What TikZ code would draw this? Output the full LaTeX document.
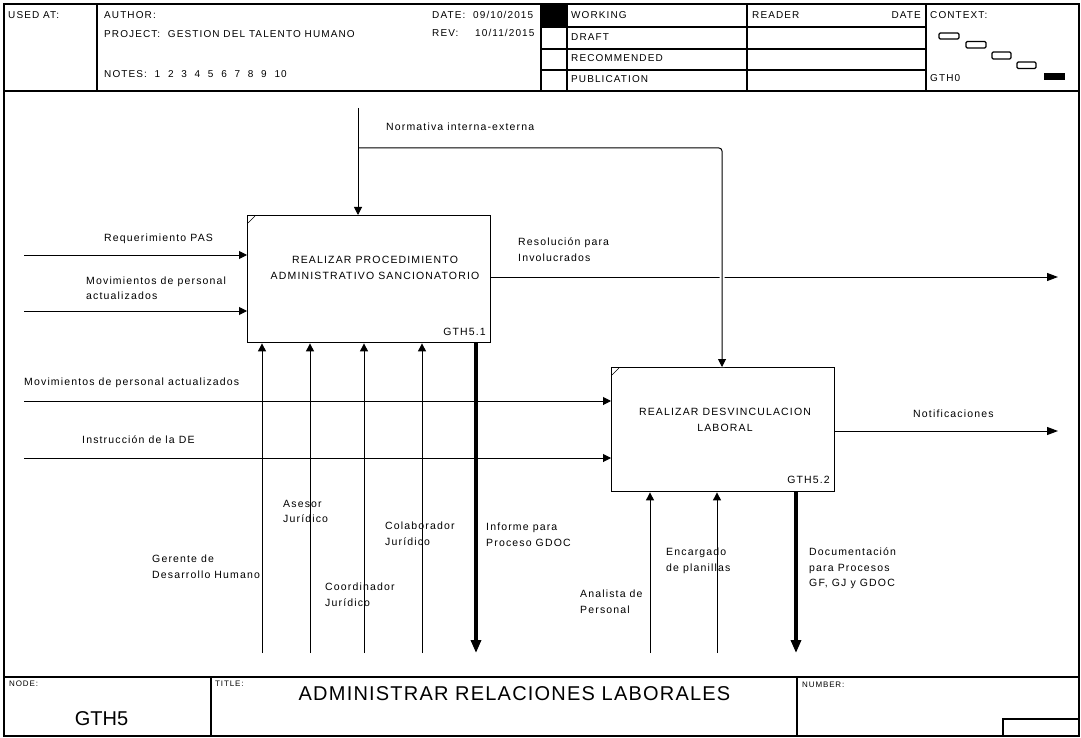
\documentclass[tikz,border=0pt]{standalone}
\usepackage{fontspec}
\setmainfont{Liberation Sans}[LetterSpace=11]
\newfontfamily\titlefont{Liberation Sans}[LetterSpace=6]
\newfontfamily\plainfont{Liberation Sans}
\usetikzlibrary{arrows.meta}
\begin{document}
\begin{tikzpicture}[x=1pt,y=-1pt,
  frame/.style={line width=1.3pt},
  rule/.style={line width=1.1pt},
  lbl/.style={inner sep=0pt, anchor=west, font=\fontsize{10.5}{15.5}\selectfont},
  mlbl/.style={inner sep=0pt, anchor=north west, align=left, font=\fontsize{10.5}{15.5}\selectfont},
  hdr/.style={inner sep=0pt, anchor=west, font=\fontsize{10}{11}\selectfont},
  tiny/.style={inner sep=0pt, anchor=west, font=\fontsize{8}{9}\selectfont},
  actbox/.style={draw, line width=1.4pt, inner sep=0pt, anchor=north west},
  boxtext/.style={inner sep=0pt, align=center, font=\fontsize{10.5}{16}\selectfont},
  arr/.style={line width=1pt, -{Triangle[length=8pt,width=8pt]}},
  outarr/.style={line width=1pt, -{Triangle[length=11pt,width=8pt]}},
  bigout/.style={line width=3.2pt, -{Triangle[length=13pt,width=10pt]}},
  ctx/.style={draw, line width=1.2pt, rounded corners=1.2pt}
]
\useasboundingbox (0,0) rectangle (1081,738);

% ---------- frame and header ----------
\draw[frame] (4,4) rectangle (1079,736);
\draw[frame] (4,91) -- (1079,91);
\draw[rule] (97,4) -- (97,91);
\draw[rule] (541,4) -- (541,91);
\draw[rule] (567,4) -- (567,91);
\draw[rule] (747,4) -- (747,91);
\draw[rule] (926,4) -- (926,91);
\draw[rule] (541,27) -- (926,27);
\draw[rule] (541,49) -- (926,49);
\draw[rule] (541,70) -- (926,70);
\fill (541,4) rectangle (567,27);

\node[hdr] (usedat) at (8,15) {USED AT:};
\node[hdr] (author) at (104,15) {AUTHOR:};
\node[hdr] (project) at (104,34) {PROJECT:\ \ GESTION DEL TALENTO HUMANO};
\node[hdr] (notes) at (104,74) {NOTES:\ \ 1 \ 2 \ 3 \ 4 \ 5 \ 6 \ 7 \ 8 \ 9 \ 10};
\node[hdr] (datel) at (432,15) {DATE:};
\node[hdr] (datev) at (473,15) {09/10/2015};
\node[hdr] (revl) at (432,33) {REV:};
\node[hdr] (revv) at (475,33) {10/11/2015};
\node[hdr] (working) at (571,15) {WORKING};
\node[hdr] (draft) at (571,37) {DRAFT};
\node[hdr] (recom) at (571,58) {RECOMMENDED};
\node[hdr] (publ) at (571,79) {PUBLICATION};
\node[hdr] (reader) at (752,15) {READER};
\node[hdr, anchor=east] (rdate) at (921,15) {DATE};
\node[hdr] (context) at (930,15) {CONTEXT:};
\node[hdr] (gth0) at (930,78) {GTH0};

\draw[ctx] (939,33) rectangle (959,39);
\draw[ctx] (966,41.5) rectangle (986,48);
\draw[ctx] (992,52) rectangle (1011,59);
\draw[ctx] (1017,62) rectangle (1036,68.5);
\fill (1044,73.5) rectangle (1065,80.5);

% ---------- activity boxes ----------
\node[actbox, minimum width=243pt, minimum height=127pt] (b1) at (247,215) {};
\node[actbox, minimum width=223pt, minimum height=124pt] (b2) at (611,367) {};
\draw[line width=0.6pt] (248,223) -- (255,216);
\draw[line width=0.6pt] (612,375) -- (619,368);

\node[boxtext] (b1t) at (375,268) {REALIZAR PROCEDIMIENTO\\ADMINISTRATIVO SANCIONATORIO};
\node[boxtext] (b2t) at (725,420) {REALIZAR DESVINCULACION\\LABORAL};
\node[lbl, anchor=east] (b1n) at (486,332) {GTH5.1};
\node[lbl, anchor=east] (b2n) at (830,480) {GTH5.2};

% ---------- coordinates ----------
\coordinate (ctop) at (358,108);
\coordinate (cj) at (358,148);
\coordinate (cc) at (722,148);
\coordinate (i11) at (24,255);
\coordinate (i12) at (24,311);
\coordinate (i21) at (24,401);
\coordinate (i22) at (24,458);
\coordinate (o11) at (1058,277);
\coordinate (o21) at (1058,431);
\coordinate (m11) at (262,653);
\coordinate (m12) at (310,653);
\coordinate (m13) at (364,653);
\coordinate (m14) at (422,653);
\coordinate (o12) at (476,653);
\coordinate (m21) at (650,653);
\coordinate (m22) at (717,653);
\coordinate (o22) at (796,653);

% ---------- outputs ----------
\draw[outarr] (b1.east |- o11) -- (o11);
\draw[outarr] (b2.east |- o21) -- (o21);
\draw[bigout] (o12 |- b1.south) -- (o12);
\draw[bigout] (o22 |- b2.south) -- (o22);

% ---------- controls ----------
\draw[arr, rounded corners=3pt, preaction={draw=white, line width=5pt, -}] (cj) -- (cc) -- (cc |- b2.north);
\draw[arr] (ctop) -- (ctop |- b1.north);

% ---------- inputs ----------
\draw[arr] (i11) -- (i11 -| b1.west);
\draw[arr] (i12) -- (i12 -| b1.west);
\draw[arr] (i21) -- (i21 -| b2.west);
\draw[arr] (i22) -- (i22 -| b2.west);

% ---------- mechanisms ----------
\draw[arr] (m11) -- (m11 |- b1.south);
\draw[arr] (m12) -- (m12 |- b1.south);
\draw[arr] (m13) -- (m13 |- b1.south);
\draw[arr] (m14) -- (m14 |- b1.south);
\draw[arr] (m21) -- (m21 |- b2.south);
\draw[arr] (m22) -- (m22 |- b2.south);

% ---------- arrow labels ----------
\node[lbl] (lnorm) at (386,127) {Normativa interna-externa};
\node[lbl] (lreq) at (104,239) {Requerimiento PAS};
\node[mlbl] (lmov1) at (86,276.5) {Movimientos de personal\\actualizados};
\node[mlbl] (lres) at (518,238) {Resolución para\\Involucrados};
\node[lbl] (lmov2) at (24,383) {Movimientos de personal actualizados};
\node[lbl] (lins) at (82,440) {Instrucción de la DE};
\node[lbl] (lnot) at (913,414) {Notificaciones};
\node[mlbl] (lase) at (283,500) {Asesor\\Jurídico};
\node[mlbl] (lcol) at (385,522) {Colaborador\\Jurídico};
\node[mlbl] (linf) at (486,523) {Informe para\\Proceso GDOC};
\node[mlbl] (lger) at (152,555) {Gerente de\\Desarrollo Humano};
\node[mlbl] (lcoo) at (325,583) {Coordinador\\Jurídico};
\node[mlbl] (lenc) at (666,548) {Encargado\\de planillas};
\node[mlbl] (lana) at (580,590) {Analista de\\Personal};
\node[mlbl] (ldoc) at (809,548) {Documentación\\para Procesos\\GF, GJ y GDOC};

% ---------- footer ----------
\draw[frame] (4,677) -- (1079,677);
\draw[rule] (211,677) -- (211,736);
\draw[rule] (797,677) -- (797,736);
\draw[rule] (1003,719) rectangle (1079,736);
\node[tiny] (fnode) at (9,684) {NODE:};
\node[tiny] (ftitle) at (215,684) {TITLE:};
\node[tiny] (fnum) at (802,685) {NUMBER:};
\node[inner sep=0pt, font=\titlefont\fontsize{20}{24}\selectfont] (title) at (514.5,693.5) {ADMINISTRAR RELACIONES LABORALES};
\node[inner sep=0pt, font=\plainfont\fontsize{20}{24}\selectfont] (gth5) at (101.5,718.5) {GTH5};
\end{tikzpicture}
\end{document}
